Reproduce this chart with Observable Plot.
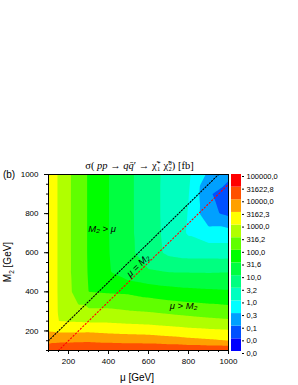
<!DOCTYPE html>
<html><head><meta charset="utf-8">
<script src="https://cdn.jsdelivr.net/npm/d3@7"></script>
<script src="https://cdn.jsdelivr.net/npm/@observablehq/plot@0.6"></script>
<style>
html,body{margin:0;padding:0;background:#fff;}
#chart{position:relative;width:298px;height:385px;overflow:hidden;font-family:"Liberation Sans",Arial,sans-serif;color:#000;}
#chart svg{position:absolute;top:0;}
.t{position:absolute;white-space:nowrap;line-height:1;transform:translate(-50%,-50%);}
.ss{display:inline-block;vertical-align:-0.35em;line-height:0.95;font-size:0.62em;text-align:left;margin-left:0.5px;}
.ss span{display:block;}
</style></head><body>
<div id="chart"></div>
<script>
// grid of (mu, M2) points in GeV
const muGrid = [100,150,200,250,300,400,500,600,700,800,900,1000];
const m2Grid = [100,150,200,250,300,400,500,600,700,800,900,1000];
// log10(sigma / fb), one row per M2 value, columns follow muGrid
const rowM2_100  = [4.20,4.30,4.40,4.45,4.45,4.45,4.45,4.45,4.45,4.45,4.45,4.45];
const rowM2_150  = [3.90,3.92,3.90,3.92,3.93,3.88,3.85,3.82,3.75,3.65,3.58,3.50];
const rowM2_200  = [3.48,3.42,3.42,3.42,3.43,3.37,3.33,3.30,3.22,3.15,3.10,3.06];
const rowM2_250  = [3.40,3.00,2.98,2.96,2.94,2.93,2.88,2.84,2.78,2.70,2.63,2.58];
const rowM2_300  = [3.37,2.97,2.68,2.60,2.60,2.60,2.53,2.48,2.40,2.33,2.27,2.21];
const rowM2_400  = [3.35,2.96,2.60,2.30,2.00,1.95,1.92,1.80,1.70,1.63,1.59,1.56];
const rowM2_500  = [3.35,2.96,2.58,2.26,1.97,1.55,1.20,1.05,1.00,0.99,0.98,1.00];
const rowM2_600  = [3.35,2.96,2.58,2.25,1.96,1.52,1.12,0.75,0.40,0.30,0.30,0.29];
const rowM2_700  = [3.35,2.96,2.58,2.25,1.96,1.51,1.11,0.71,0.37,-0.05,-0.30,-0.29];
const rowM2_800  = [3.35,2.96,2.58,2.25,1.96,1.51,1.11,0.70,0.36,-0.02,-0.88,-1.10];
const rowM2_900  = [3.35,2.96,2.58,2.25,1.96,1.51,1.11,0.70,0.36,0.02,-0.95,-1.20];
const rowM2_1000 = [3.35,2.96,2.58,2.25,1.96,1.51,1.11,0.70,0.37,0.10,-0.60,-0.90];
const log10SigmaRows = [rowM2_100,rowM2_150,rowM2_200,rowM2_250,rowM2_300,rowM2_400,
  rowM2_500,rowM2_600,rowM2_700,rowM2_800,rowM2_900,rowM2_1000];

// colour-bar boundaries (log10 of 0.01 ... 100000 fb) and their labels
const levels = [-2,-1.5,-1,-0.5,0,0.5,1,1.5,2,2.5,3,3.5,4,4.5,5];
const levelLabels = ["0,0","0,0","0,1","0,3","1,0","3,2","10,0","31,6","100,0","316,2",
  "1000,0","3162,3","10000,0","31622,8","100000,0"];
const bandColors = ["#0000ff","#0050ff","#00a0ff","#00ffff","#00ffc0","#00ff80","#00ff40",
  "#00ff00","#60ff00","#b0ff00","#ffff00","#ffa000","#ff5000","#ff0000"];

const xTicks = [200,400,600,800,1000];
const yTicks = [200,400,600,800,1000];
const minorTicks = [100,150,200,250,300,350,400,450,500,550,600,650,700,750,800,850,900,950,1000];

const diagBlack = [{mu:100,m2:150},{mu:950,m2:1000}];
const diagRed = [{mu:150,m2:100},{mu:1000,m2:950}];
const regionLabels = [{mu:368,m2:722,text:"M\u2082 > \u03bc"},{mu:775,m2:330,text:"\u03bc > M\u2082"}];
const diagLabel = [{mu:548,m2:534,text:"\u03bc = M\u2082"}];

const grid = [];
log10SigmaRows.forEach((row, i) => row.forEach((v, j) => grid.push({mu: muGrid[j], m2: m2Grid[i], L: v})));

const bandLevels = levels.slice(0, 14);
const colorScale = {type: "ordinal", domain: bandLevels, range: bandColors};
const plain = d => String(d);

const main = Plot.plot({
  width: 298, height: 385,
  marginLeft: 48, marginRight: 70, marginTop: 174, marginBottom: 35,
  x: {domain: [100, 1000], label: null},
  y: {domain: [100, 1000], label: null},
  color: colorScale,
  style: {fontFamily: "'Liberation Sans', Arial, sans-serif", fontSize: "8px", background: "transparent", color: "black"},
  marks: [
    Plot.contour(grid, {x: "mu", y: "m2", fill: "L", stroke: "none", interpolate: "barycentric", thresholds: bandLevels, pixelSize: 1}),
    Plot.line(diagBlack, {x: "mu", y: "m2", stroke: "black", strokeWidth: 1.1, strokeDasharray: "1.2,1.8"}),
    Plot.line(diagRed, {x: "mu", y: "m2", stroke: "#ff0000", strokeWidth: 1.1, strokeDasharray: "1.2,2.2"}),
    Plot.text(regionLabels, {x: "mu", y: "m2", text: "text", fontStyle: "italic", fontSize: 9.5}),
    Plot.text(diagLabel, {x: "mu", y: "m2", text: "text", fontStyle: "italic", fontSize: 9.5, rotate: -44}),
    Plot.frame({stroke: "black"}),
    Plot.axisX(minorTicks, {tickSize: 2, tickFormat: () => ""}),
    Plot.axisX(xTicks, {tickSize: 4, tickPadding: 4, tickFormat: plain}),
    Plot.axisY(minorTicks, {tickSize: 2, tickFormat: () => ""}),
    Plot.axisY(yTicks, {tickSize: 4, tickPadding: 6, tickFormat: plain})
  ]
});

const bands = bandLevels.map((lv, i) => ({i, lv}));
const bar = Plot.plot({
  width: 69, height: 385,
  marginLeft: 2, marginRight: 57, marginTop: 174, marginBottom: 34,
  x: {domain: [0, 1], axis: null},
  y: {domain: [0, 14], label: null},
  color: colorScale,
  style: {fontFamily: "'Liberation Sans', Arial, sans-serif", fontSize: "7.5px", background: "transparent", color: "black"},
  marks: [
    Plot.rect(bands, {x1: 0, x2: 1, y1: "i", y2: d => d.i + 1, fill: "lv"}),
    Plot.axisY(levelLabels.map((_, i) => i), {anchor: "right", tickSize: 2, tickPadding: 3, dy: 2, tickFormat: i => levelLabels[i]})
  ]
});

const chart = document.getElementById("chart");
main.style.left = "0px";
bar.style.left = "229px";
chart.appendChild(main);
chart.appendChild(bar);

function addText(html, x, y, style) {
  const d = document.createElement("div");
  d.className = "t";
  d.innerHTML = html;
  d.style.left = x + "px";
  d.style.top = y + "px";
  Object.assign(d.style, style || {});
  chart.appendChild(d);
  return d;
}
addText("(b)", 9, 174.5, {fontSize: "10px"});
addText("\u03c3( <i>pp</i> \u2192 <i>q</i><i>q\u0304</i>\u2032 \u2192 \u03c7\u0303<span class='ss'><span>+</span><span>1</span></span> \u03c7\u0303<span class='ss'><span>0</span><span>2</span></span>) [fb]",
  139.5, 166, {fontFamily: "'Liberation Serif','DejaVu Serif',serif", fontSize: "10.5px"});
addText("\u03bc [GeV]", 137, 378, {fontSize: "10px"});
addText("M<sub style='font-size:0.65em'>2</sub> [GeV]", 8.5, 262, {fontSize: "10px", transform: "translate(-50%,-50%) rotate(-90deg)"});
</script>
</body></html>
